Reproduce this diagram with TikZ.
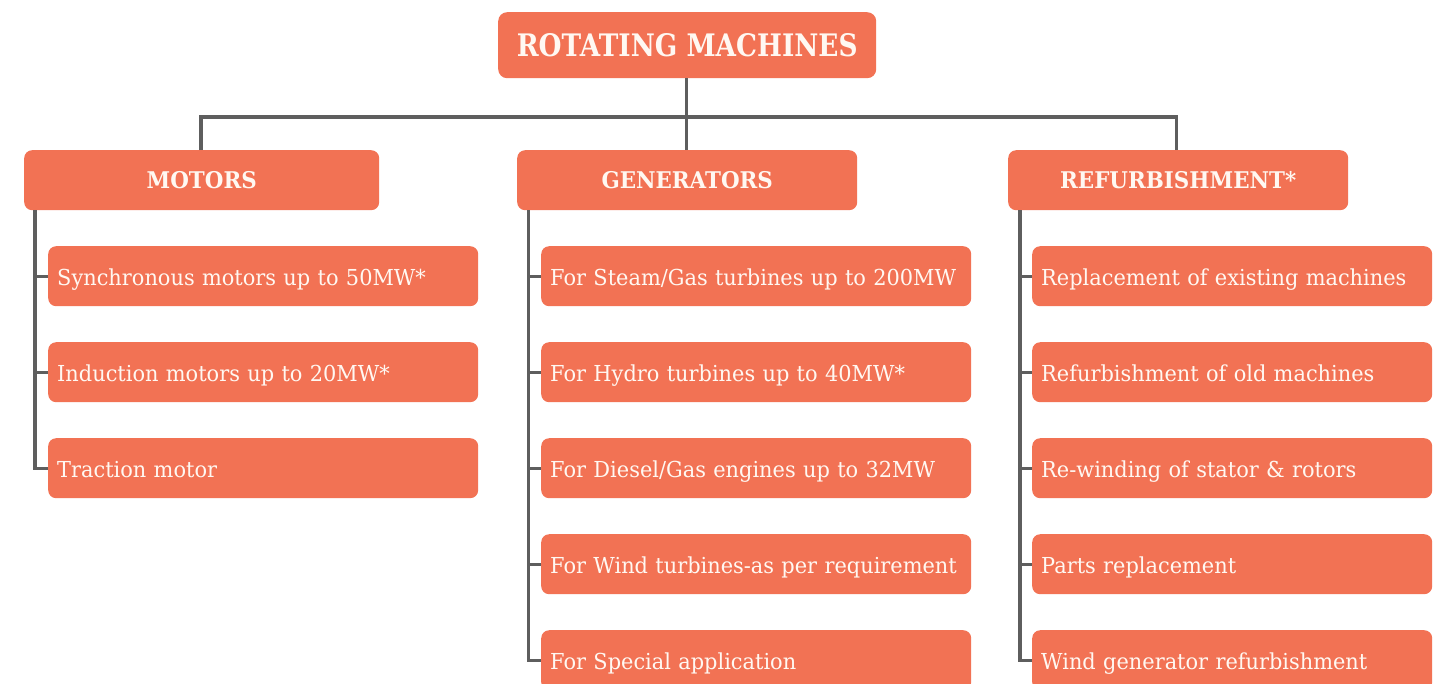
\documentclass[tikz,border=0pt]{standalone}
\usepackage{fontspec}
\setmainfont{DejaVu Serif}
\newfontfamily\itemfont{DejaVu Serif}[FakeStretch=0.95]
\newfontfamily\catfont{DejaVu Serif}[FakeStretch=0.93]
\newfontfamily\titlefont{DejaVu Serif}[FakeStretch=0.85]
\definecolor{boxfill}{HTML}{F27254}
\definecolor{linegray}{HTML}{5E5E5E}
\definecolor{txt}{HTML}{FFF8F2}
\begin{document}
\begin{tikzpicture}[x=1pt,y=-1pt,
  conn/.style={draw=linegray,line width=3.2pt},
  titlebox/.style={fill=boxfill,rounded corners=9pt,anchor=north west,minimum width=378pt,minimum height=66pt,inner sep=0pt,text=txt,font=\titlefont\fontsize{31}{34}\selectfont\bfseries},
  catbox/.style={fill=boxfill,rounded corners=8pt,anchor=north west,minimum height=60pt,inner sep=0pt,text=txt,font=\catfont\fontsize{23}{26}\selectfont\bfseries},
  itembox/.style={fill=boxfill,rounded corners=8pt,anchor=north west,minimum height=60pt,inner xsep=9pt,inner ysep=0pt,text height=21pt,text depth=2pt,text=txt,align=left,font=\itemfont\fontsize{22}{26}\selectfont},
]
\useasboundingbox (0,0) rectangle (1447,683);
\clip (0,0) rectangle (1447,683);
% title
\node[titlebox] (root) at (498,12) {ROTATING MACHINES};
% categories
\node[catbox,minimum width=355pt] (mot) at (24,150) {MOTORS};
\node[catbox,minimum width=340pt] (gen) at (517,150) {GENERATORS};
\node[catbox,minimum width=340pt] (ref) at (1008,150) {REFURBISHMENT*};
% bus
\coordinate (busm) at (201,117);
\coordinate (busc) at (686.5,117);
\coordinate (busr) at (1176.5,117);
\draw[conn] (root.south -| busc) -- (busc);
\draw[conn] (busm |- mot.north) -- (busm) -- (busr) -- (busr |- ref.north);
\draw[conn] (busc) -- (busc |- gen.north);
% motors items
\node[itembox,text width=412pt] (m1) at (48,246) {Synchronous motors up to 50MW*};
\node[itembox,text width=412pt] (m2) at (48,342) {Induction motors up to 20MW*};
\node[itembox,text width=412pt] (m3) at (48,438) {Traction motor};
% generators items
\node[itembox,text width=412pt] (g1) at (541,246) {For Steam/Gas turbines up to 200MW};
\node[itembox,text width=412pt] (g2) at (541,342) {For Hydro turbines up to 40MW*};
\node[itembox,text width=412pt] (g3) at (541,438) {For Diesel/Gas engines up to 32MW};
\node[itembox,text width=412pt] (g4) at (541,534) {For Wind turbines-as per requirement};
\node[itembox,text width=412pt] (g5) at (541,630) {For Special application};
% refurbishment items
\node[itembox,text width=382pt] (r1) at (1032,246) {Replacement of existing machines};
\node[itembox,text width=382pt] (r2) at (1032,342) {Refurbishment of old machines};
\node[itembox,text width=382pt] (r3) at (1032,438) {Re-winding of stator \& rotors};
\node[itembox,text width=382pt] (r4) at (1032,534) {Parts replacement};
\node[itembox,text width=382pt] (r5) at (1032,630) {Wind generator refurbishment};
% spines
\coordinate (sm) at (35,0);
\coordinate (sg) at (528.5,0);
\coordinate (sr) at (1020,0);
\draw[conn] (sm |- mot.south) -- (sm |- m3.west) -- (m3.west);
\draw[conn] (sm |- m1.west) -- (m1.west);
\draw[conn] (sm |- m2.west) -- (m2.west);
\draw[conn] (sg |- gen.south) -- (sg |- g5.west) -- (g5.west);
\foreach \n in {g1,g2,g3,g4} \draw[conn] (sg |- \n.west) -- (\n.west);
\draw[conn] (sr |- ref.south) -- (sr |- r5.west) -- (r5.west);
\foreach \n in {r1,r2,r3,r4} \draw[conn] (sr |- \n.west) -- (\n.west);
\end{tikzpicture}
\end{document}
